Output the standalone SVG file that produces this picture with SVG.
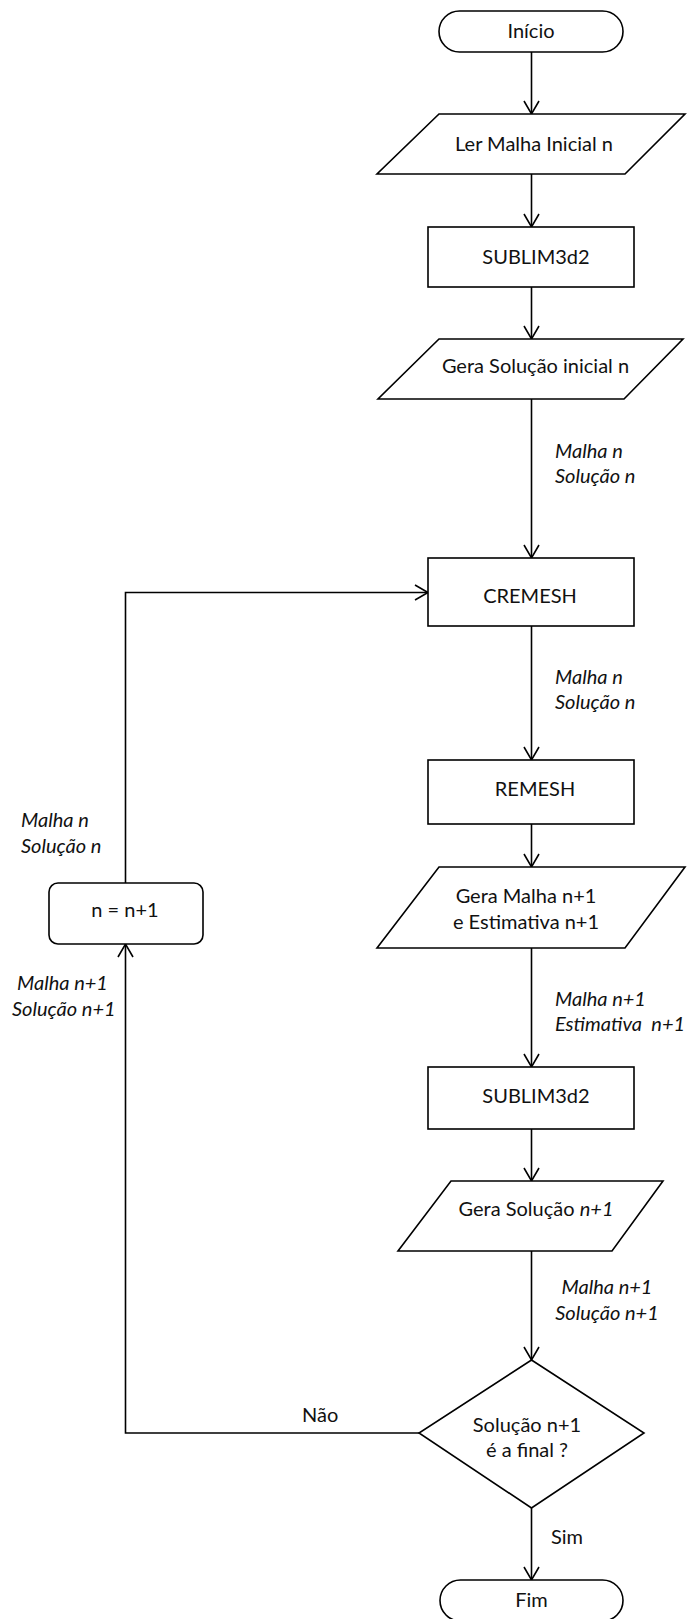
<svg xmlns="http://www.w3.org/2000/svg" width="691" height="1619" viewBox="0 0 691 1619">
<style>
.s{fill:#fff;stroke:#000;stroke-width:1.6}
.c{fill:none;stroke:#000;stroke-width:1.6}
text{font-family:Lato,"Liberation Sans",sans-serif;font-size:20px;fill:#111}
.m{text-anchor:middle}
.i{font-style:italic}
</style>
<defs>
<marker id="ah" markerUnits="userSpaceOnUse" markerWidth="16" markerHeight="18" viewBox="0 0 16 18" refX="14" refY="9" orient="auto">
<path d="M1,1.5 L14,9 L1,16.5" fill="none" stroke="#000" stroke-width="1.6"/>
</marker>
</defs>
<rect width="691" height="1619" fill="#fff"/>
<g id="connectors">
<line class="c" x1="531.5" y1="52" x2="531.5" y2="114" marker-end="url(#ah)"/>
<line class="c" x1="531.5" y1="174" x2="531.5" y2="227" marker-end="url(#ah)"/>
<line class="c" x1="531.5" y1="287" x2="531.5" y2="339" marker-end="url(#ah)"/>
<line class="c" x1="531.5" y1="399" x2="531.5" y2="558" marker-end="url(#ah)"/>
<line class="c" x1="531.5" y1="626" x2="531.5" y2="760" marker-end="url(#ah)"/>
<line class="c" x1="531.5" y1="824" x2="531.5" y2="867" marker-end="url(#ah)"/>
<line class="c" x1="531.5" y1="948" x2="531.5" y2="1067" marker-end="url(#ah)"/>
<line class="c" x1="531.5" y1="1129" x2="531.5" y2="1181" marker-end="url(#ah)"/>
<line class="c" x1="531.5" y1="1251" x2="531.5" y2="1360" marker-end="url(#ah)"/>
<line class="c" x1="531.5" y1="1508" x2="531.5" y2="1580" marker-end="url(#ah)"/>
<polyline class="c" points="419,1433 125.5,1433 125.5,944" marker-end="url(#ah)"/>
<polyline class="c" points="125.5,883 125.5,592.5 428,592.5" marker-end="url(#ah)"/>
<text class="i" x="555" y="458">Malha n</text>
<text class="i" x="555" y="483">Solução n</text>
<text class="i" x="555" y="684">Malha n</text>
<text class="i" x="555" y="709">Solução n</text>
<text class="i" x="555" y="1006">Malha n+1</text>
<text class="i" x="555" y="1031" xml:space="preserve">Estimativa  n+1</text>
<text class="i m" x="607" y="1294">Malha n+1</text>
<text class="i m" x="607" y="1320">Solução n+1</text>
<text class="i" x="21" y="827">Malha n</text>
<text class="i" x="21" y="853">Solução n</text>
<text class="i" x="17" y="990">Malha n+1</text>
<text class="i" x="12" y="1016">Solução n+1</text>
<text x="302" y="1422">Não</text>
<text x="551" y="1544">Sim</text>
</g>
<g id="inicio">
<rect class="s" x="439" y="11" width="184" height="41" rx="20.5"/>
<text class="m" x="531" y="38">Início</text>
</g>
<g id="ler-malha">
<polygon class="s" points="439,114 685,114 625,174 377,174"/>
<text class="m" x="534" y="151">Ler Malha Inicial n</text>
</g>
<g id="sublim1">
<rect class="s" x="428" y="227" width="206" height="60"/>
<text class="m" x="536" y="264">SUBLIM3d2</text>
</g>
<g id="gera-sol-inicial">
<polygon class="s" points="439,339 683,339 624,399 378,399"/>
<text class="m" x="535.5" y="373">Gera Solução inicial n</text>
</g>
<g id="cremesh">
<rect class="s" x="428" y="558" width="206" height="68"/>
<text class="m" x="530" y="603">CREMESH</text>
</g>
<g id="remesh">
<rect class="s" x="428" y="760" width="206" height="64"/>
<text class="m" x="535" y="796">REMESH</text>
</g>
<g id="gera-malha">
<polygon class="s" points="439,867 685,867 625,948 377,948"/>
<text class="m" x="526" y="903">Gera Malha n+1</text>
<text class="m" x="526" y="929">e Estimativa n+1</text>
</g>
<g id="sublim2">
<rect class="s" x="428" y="1067" width="206" height="62"/>
<text class="m" x="536" y="1103">SUBLIM3d2</text>
</g>
<g id="gera-sol">
<polygon class="s" points="451,1181 663,1181 612,1251 398,1251"/>
<text class="m" x="536" y="1216">Gera Solução <tspan class="i">n+1</tspan></text>
</g>
<g id="decisao">
<polygon class="s" points="531.5,1360 644,1433 531.5,1508 419,1433"/>
<text class="m" x="527" y="1432">Solução n+1</text>
<text class="m" x="527" y="1457">é a final ?</text>
</g>
<g id="incremento">
<rect class="s" x="49" y="883" width="154" height="61" rx="9"/>
<text class="m" x="125" y="917">n = n+1</text>
</g>
<g id="fim">
<rect class="s" x="440" y="1580" width="183" height="41" rx="20.5"/>
<text class="m" x="531.5" y="1607">Fim</text>
</g>
</svg>
